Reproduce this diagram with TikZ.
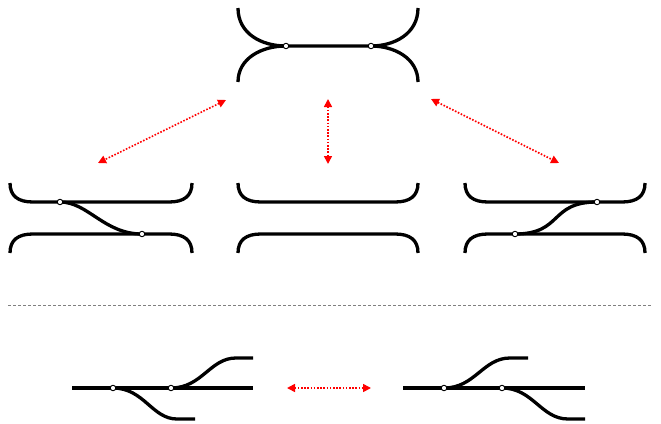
\documentclass[tikz,border=0pt]{standalone}
\usetikzlibrary{arrows.meta,backgrounds}
\begin{document}
\begin{tikzpicture}[x=1pt,y=-1pt,
  track/.style={line width=3.3pt},
  joint/.style={circle, draw=black, fill=white, line width=0.9pt, inner sep=0pt, minimum size=5.5pt},
  swap/.style={red, line width=1.6pt, dash pattern=on 1.6pt off 1.6pt,
    {Triangle[length=8pt,width=8pt]}-{Triangle[length=8pt,width=8pt]}},
  divider/.style={gray, line width=1pt, dash pattern=on 3pt off 2pt}]
\useasboundingbox (0,0) rectangle (661,423);

% ---- top: two tracks joined by a shared middle piece ----
\node[joint] (t1) at (286,46) {};
\node[joint] (t2) at (371,46) {};
\coordinate (tA) at (238,8);
\coordinate (tB) at (238,82);
\coordinate (tC) at (418,8);
\coordinate (tD) at (418,82);
\begin{scope}[on background layer]
  \draw[track] (tA) .. controls (238,34) and (262,46) .. (t1.center) -- (t2.center)
                 .. controls (394,46) and (418,34) .. (tC);
  \draw[track] (tB) .. controls (238,58) and (262,46) .. (t1.center);
  \draw[track] (t2.center) .. controls (394,46) and (418,58) .. (tD);
\end{scope}

% ---- middle left: crossover falling to the right ----
\node[joint] (l1) at (60,202) {};
\node[joint] (l2) at (142,234) {};
\coordinate (lA) at (10,183);
\coordinate (lB) at (192,183);
\coordinate (lC) at (10,253);
\coordinate (lD) at (192,253);
\begin{scope}[on background layer]
  \draw[track] (lA) .. controls (10,196) and (18,202) .. (33,202) -- (l1.center) -- (169,202)
                 .. controls (184,202) and (192,196) .. (lB);
  \draw[track] (lC) .. controls (10,240) and (18,234) .. (33,234) -- (l2.center) -- (169,234)
                 .. controls (184,234) and (192,240) .. (lD);
  \draw[track] (l1.center) .. controls (88,202) and (104,234) .. (l2.center);
\end{scope}

% ---- middle centre: two plain tracks ----
\coordinate (cA) at (238,183);
\coordinate (cB) at (418,183);
\coordinate (cC) at (238,253);
\coordinate (cD) at (418,253);
\draw[track] (cA) .. controls (238,196) and (246,202) .. (261,202) -- (395,202)
               .. controls (410,202) and (418,196) .. (cB);
\draw[track] (cC) .. controls (238,240) and (246,234) .. (261,234) -- (395,234)
               .. controls (410,234) and (418,240) .. (cD);

% ---- middle right: crossover rising to the right ----
\node[joint] (r1) at (597,202) {};
\node[joint] (r2) at (515,234) {};
\coordinate (rA) at (465,183);
\coordinate (rB) at (645,183);
\coordinate (rC) at (465,253);
\coordinate (rD) at (645,253);
\begin{scope}[on background layer]
  \draw[track] (rA) .. controls (465,196) and (473,202) .. (488,202) -- (r1.center) -- (622,202)
                 .. controls (637,202) and (645,196) .. (rB);
  \draw[track] (rC) .. controls (465,240) and (473,234) .. (488,234) -- (r2.center) -- (622,234)
                 .. controls (637,234) and (645,240) .. (rD);
  \draw[track] (r2.center) .. controls (563,234) and (549,202) .. (r1.center);
\end{scope}

% ---- exchange arrows ----
\coordinate (aL1) at (226,100);
\coordinate (aL2) at (98,163);
\coordinate (aC1) at (328,99);
\coordinate (aC2) at (328,164);
\coordinate (aR1) at (431,99);
\coordinate (aR2) at (559,163);
\draw[swap] (aL1) -- (aL2);
\draw[swap] (aC1) -- (aC2);
\draw[swap] (aR1) -- (aR2);

% ---- divider ----
\coordinate (dA) at (8,305);
\coordinate (dB) at (652,305);
\draw[divider] (dA) -- (dB);

% ---- bottom left: two turnouts, lower first ----
\node[joint] (p1) at (113,388) {};
\node[joint] (p2) at (171,388) {};
\coordinate (pA) at (72,388);
\coordinate (pB) at (253,388);
\coordinate (pU) at (253,358);
\coordinate (pD) at (195,419);
\begin{scope}[on background layer]
  \draw[track] (pA) -- (p1.center) -- (p2.center) -- (pB);
  \draw[track] (p2.center) .. controls (202,388) and (210,358) .. (236,358) -- (pU);
  \draw[track] (p1.center) .. controls (144,388) and (152,419) .. (177,419) -- (pD);
\end{scope}

% ---- bottom right: two turnouts, upper first ----
\node[joint] (q1) at (444,388) {};
\node[joint] (q2) at (502,388) {};
\coordinate (qA) at (403,388);
\coordinate (qB) at (585,388);
\coordinate (qU) at (528,358);
\coordinate (qD) at (585,419);
\begin{scope}[on background layer]
  \draw[track] (qA) -- (q1.center) -- (q2.center) -- (qB);
  \draw[track] (q1.center) .. controls (475,388) and (483,358) .. (510,358) -- (qU);
  \draw[track] (q2.center) .. controls (533,388) and (541,419) .. (568,419) -- (qD);
\end{scope}

\coordinate (aB1) at (287,388);
\coordinate (aB2) at (371,388);
\draw[swap] (aB1) -- (aB2);
\end{tikzpicture}
\end{document}
